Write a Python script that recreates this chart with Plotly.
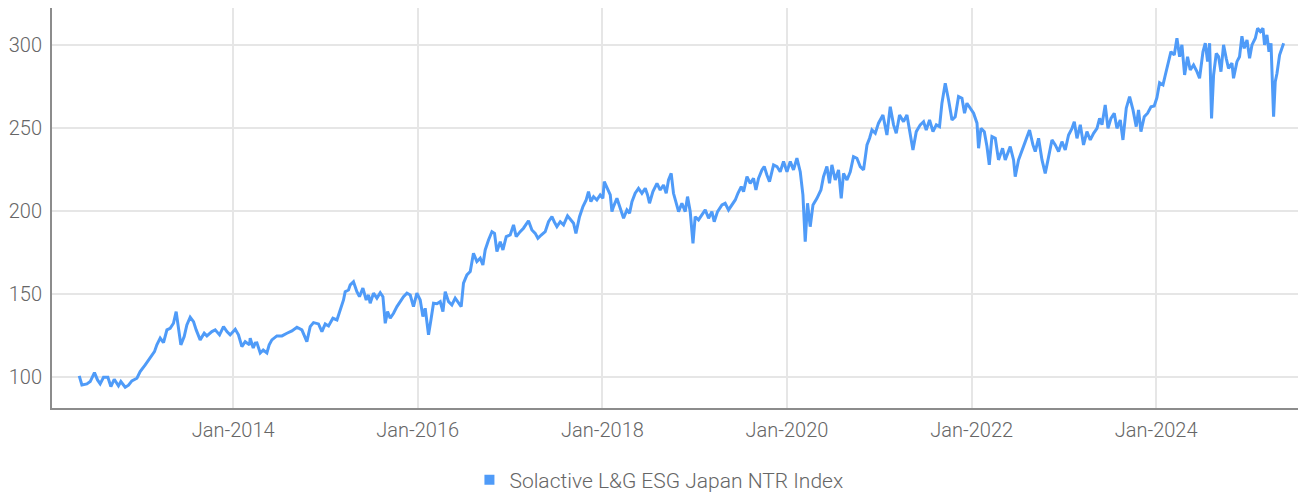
import pandas as pd
import plotly.graph_objects as go

SERIES_NAME = "Solactive L&G ESG Japan NTR Index"

# time in decimal years
t_years = [
    2012.332, 2012.361, 2012.415, 2012.451, 2012.497, 2012.530, 2012.559, 2012.595, 2012.642, 2012.675,
    2012.711, 2012.757, 2012.783, 2012.830, 2012.866, 2012.902, 2012.957, 2012.992, 2013.047, 2013.101,
    2013.147, 2013.173, 2013.209, 2013.245, 2013.282, 2013.317, 2013.353, 2013.382, 2013.407, 2013.433,
    2013.469, 2013.498, 2013.534, 2013.570, 2013.599, 2013.642, 2013.686, 2013.715, 2013.769, 2013.805,
    2013.852, 2013.895, 2013.932, 2013.967, 2014.022, 2014.057, 2014.094, 2014.130, 2014.177, 2014.184,
    2014.217, 2014.238, 2014.257, 2014.293, 2014.325, 2014.365, 2014.390, 2014.419, 2014.473, 2014.528,
    2014.582, 2014.636, 2014.690, 2014.744, 2014.798, 2014.834, 2014.870, 2014.924, 2014.961, 2014.997,
    2015.033, 2015.080, 2015.124, 2015.159, 2015.195, 2015.213, 2015.249, 2015.268, 2015.303, 2015.340,
    2015.368, 2015.405, 2015.441, 2015.466, 2015.484, 2015.520, 2015.557, 2015.593, 2015.622, 2015.647,
    2015.672, 2015.701, 2015.737, 2015.774, 2015.809, 2015.845, 2015.882, 2015.918, 2015.953, 2015.990,
    2016.026, 2016.055, 2016.080, 2016.116, 2016.142, 2016.170, 2016.207, 2016.243, 2016.272, 2016.297,
    2016.333, 2016.369, 2016.405, 2016.441, 2016.470, 2016.495, 2016.532, 2016.568, 2016.603, 2016.640,
    2016.676, 2016.705, 2016.730, 2016.766, 2016.803, 2016.831, 2016.857, 2016.893, 2016.922, 2016.958,
    2017.001, 2017.037, 2017.066, 2017.109, 2017.145, 2017.199, 2017.236, 2017.272, 2017.301, 2017.337,
    2017.380, 2017.416, 2017.453, 2017.478, 2017.507, 2017.543, 2017.579, 2017.622, 2017.659, 2017.687,
    2017.713, 2017.752, 2017.789, 2017.824, 2017.849, 2017.875, 2017.904, 2017.940, 2017.976, 2018.005,
    2018.020, 2018.049, 2018.085, 2018.103, 2018.120, 2018.157, 2018.193, 2018.229, 2018.265, 2018.294,
    2018.320, 2018.355, 2018.391, 2018.428, 2018.464, 2018.489, 2018.510, 2018.547, 2018.591, 2018.626,
    2018.662, 2018.691, 2018.716, 2018.745, 2018.770, 2018.796, 2018.825, 2018.861, 2018.897, 2018.922,
    2018.951, 2018.981, 2019.005, 2019.041, 2019.078, 2019.114, 2019.150, 2019.186, 2019.211, 2019.247,
    2019.295, 2019.330, 2019.366, 2019.403, 2019.439, 2019.468, 2019.504, 2019.529, 2019.566, 2019.601,
    2019.637, 2019.663, 2019.691, 2019.728, 2019.753, 2019.782, 2019.810, 2019.854, 2019.891, 2019.926,
    2019.962, 2019.999, 2020.035, 2020.070, 2020.107, 2020.143, 2020.172, 2020.197, 2020.222, 2020.251,
    2020.281, 2020.324, 2020.367, 2020.395, 2020.432, 2020.460, 2020.486, 2020.522, 2020.558, 2020.587,
    2020.612, 2020.649, 2020.685, 2020.720, 2020.757, 2020.793, 2020.829, 2020.866, 2020.894, 2020.920,
    2020.956, 2020.991, 2021.039, 2021.082, 2021.118, 2021.154, 2021.183, 2021.219, 2021.262, 2021.299,
    2021.327, 2021.364, 2021.400, 2021.443, 2021.479, 2021.508, 2021.544, 2021.581, 2021.617, 2021.652,
    2021.678, 2021.714, 2021.750, 2021.787, 2021.822, 2021.858, 2021.895, 2021.923, 2021.949, 2021.985,
    2022.021, 2022.058, 2022.075, 2022.101, 2022.137, 2022.166, 2022.191, 2022.220, 2022.256, 2022.291,
    2022.335, 2022.364, 2022.389, 2022.418, 2022.454, 2022.472, 2022.508, 2022.545, 2022.581, 2022.627,
    2022.664, 2022.689, 2022.725, 2022.762, 2022.797, 2022.827, 2022.870, 2022.906, 2022.942, 2022.978,
    2023.014, 2023.050, 2023.087, 2023.112, 2023.141, 2023.177, 2023.212, 2023.249, 2023.285, 2023.321,
    2023.358, 2023.386, 2023.412, 2023.447, 2023.477, 2023.509, 2023.545, 2023.574, 2023.610, 2023.639,
    2023.675, 2023.711, 2023.748, 2023.783, 2023.808, 2023.834, 2023.870, 2023.906, 2023.943, 2023.978,
    2024.007, 2024.036, 2024.073, 2024.098, 2024.133, 2024.159, 2024.195, 2024.224, 2024.253, 2024.278,
    2024.307, 2024.339, 2024.368, 2024.404, 2024.441, 2024.469, 2024.506, 2024.531, 2024.556, 2024.578,
    2024.599, 2024.621, 2024.650, 2024.675, 2024.701, 2024.729, 2024.758, 2024.783, 2024.820, 2024.837,
    2024.874, 2024.902, 2024.928, 2024.953, 2024.983, 2025.011, 2025.037, 2025.073, 2025.098, 2025.127,
    2025.156, 2025.173, 2025.199, 2025.221, 2025.243, 2025.271, 2025.289, 2025.308, 2025.336, 2025.362,
    2025.380,
]

index_values = [
    100.6, 95.2, 95.8, 97.2, 102.6, 98.2, 95.8, 99.8, 99.8, 94.2,
    98.6, 94.6, 97.2, 93.8, 95.0, 97.6, 99.2, 103.2, 107.2, 111.2,
    115.2, 119.3, 123.3, 120.6, 128.3, 129.3, 132.3, 139.3, 130.3, 119.3,
    124.3, 131.3, 135.9, 133.3, 128.3, 122.3, 126.3, 124.7, 127.3, 128.3,
    125.3, 130.3, 127.3, 125.3, 128.7, 125.3, 118.2, 121.2, 119.3, 123.3,
    117.4, 120.3, 120.5, 114.4, 116.2, 114.4, 119.3, 122.3, 124.7, 124.7,
    126.3, 127.7, 129.9, 128.3, 121.2, 130.3, 132.7, 131.9, 127.3, 131.9,
    130.7, 135.3, 134.3, 140.3, 146.3, 151.3, 152.3, 155.4, 157.3, 151.3,
    148.3, 153.4, 146.3, 149.3, 144.3, 150.4, 147.4, 150.7, 148.3, 132.3,
    139.3, 135.3, 138.3, 142.3, 145.3, 148.3, 150.4, 149.3, 142.3, 150.4,
    146.3, 136.3, 141.3, 125.3, 134.3, 144.3, 144.0, 145.3, 139.3, 151.3,
    145.3, 143.3, 147.4, 144.3, 142.3, 156.4, 161.4, 163.4, 174.4, 169.4,
    171.4, 167.4, 176.4, 182.4, 187.4, 186.4, 175.4, 181.4, 176.4, 184.4,
    185.4, 191.5, 184.4, 187.4, 189.5, 194.0, 188.4, 186.4, 183.4, 185.4,
    187.4, 193.4, 196.4, 193.4, 190.4, 193.4, 191.5, 196.9, 194.5, 192.5,
    186.4, 196.4, 202.5, 206.5, 211.5, 205.5, 208.5, 206.5, 209.5, 207.5,
    217.5, 213.5, 209.5, 199.5, 202.5, 207.5, 201.5, 195.5, 200.5, 198.5,
    205.5, 210.5, 213.5, 210.5, 213.5, 209.5, 204.5, 211.5, 216.5, 212.5,
    215.5, 210.5, 218.5, 222.5, 210.5, 205.5, 199.5, 204.5, 199.5, 208.5,
    199.5, 180.4, 196.4, 194.5, 197.5, 200.5, 195.5, 199.5, 193.4, 199.5,
    203.5, 204.5, 200.5, 203.5, 206.5, 210.5, 214.5, 211.5, 220.5, 216.5,
    219.5, 212.5, 219.5, 224.6, 226.6, 221.5, 217.5, 227.6, 226.6, 223.5,
    229.6, 223.5, 229.6, 224.6, 231.6, 223.5, 209.5, 181.4, 204.5, 190.4,
    203.5, 207.5, 212.5, 220.5, 226.6, 216.5, 227.6, 218.5, 224.6, 207.5,
    222.5, 218.5, 223.5, 232.6, 231.6, 226.6, 224.6, 239.6, 243.6, 248.6,
    246.6, 252.7, 257.6, 245.6, 262.6, 251.7, 246.6, 257.6, 253.6, 257.6,
    247.6, 236.6, 247.6, 251.7, 253.6, 248.6, 254.6, 247.6, 251.7, 250.6,
    264.7, 276.7, 266.7, 254.6, 256.6, 268.7, 267.7, 258.7, 264.7, 262.0,
    258.7, 252.7, 237.6, 249.6, 247.6, 238.6, 227.6, 244.6, 243.6, 230.6,
    237.6, 230.6, 234.6, 238.6, 230.6, 220.5, 230.6, 235.6, 241.6, 248.6,
    239.6, 235.6, 243.6, 230.6, 222.5, 230.6, 242.6, 239.6, 235.6, 241.6,
    236.6, 245.6, 249.6, 253.6, 243.6, 251.7, 239.6, 247.6, 242.6, 246.6,
    249.6, 255.6, 251.7, 263.7, 249.6, 255.6, 258.7, 249.6, 254.6, 242.6,
    261.7, 268.7, 260.7, 250.6, 260.7, 247.6, 256.6, 258.7, 262.6, 263.0,
    268.0, 277.0, 275.7, 281.7, 288.8, 295.7, 293.7, 303.8, 292.7, 299.8,
    281.7, 292.7, 284.7, 287.7, 283.7, 279.7, 295.7, 300.8, 289.7, 300.8,
    255.6, 281.7, 294.7, 292.7, 283.7, 299.8, 291.7, 285.7, 288.8, 279.7,
    289.7, 292.7, 305.0, 297.7, 302.8, 291.7, 299.8, 303.8, 309.8, 307.8,
    309.8, 299.8, 305.8, 295.7, 300.8, 256.6, 277.7, 282.7, 293.7, 297.7,
    300.8,
]

y_ticks = [100, 150, 200, 250, 300]

base = pd.Timestamp("2014-01-01")
dates = [base + pd.Timedelta(days=(t - 2014.0) * 365.25) for t in t_years]

LINE_COLOR = "#4F9BF8"
FONT = "Roboto, sans-serif"
GRID = "#E6E6E6"
AXIS = "#8C8C8C"
TEXT = "#666666"

fig = go.Figure()
fig.add_trace(go.Scatter(
    x=dates, y=index_values, mode="lines",
    line=dict(color=LINE_COLOR, width=3),
    showlegend=False, name=SERIES_NAME,
))
fig.add_trace(go.Scatter(
    x=[None], y=[None], mode="markers",
    marker=dict(symbol="square", size=10, color=LINE_COLOR),
    name=SERIES_NAME, showlegend=True,
))

# page body adds an 8px offset, so the figure is sized to fit the window
fig.update_layout(
    width=1298, height=485,
    margin=dict(l=44, r=0, t=0, b=85, autoexpand=False),
    paper_bgcolor="white", plot_bgcolor="white",
    font=dict(family=FONT, size=20, color=TEXT, weight=300),
    legend=dict(orientation="h", x=0.484, xanchor="center", y=-0.18, yanchor="middle",
                font=dict(family=FONT, size=21, color=TEXT, weight=300),
                itemwidth=30, tracegroupgap=0),
    xaxis=dict(
        type="date",
        range=["2012-01-15", "2025-08-16"],
        tick0="2014-01-01", dtick="M24", tickformat="%b-%Y",
        showgrid=True, gridcolor=GRID, gridwidth=2,
        showline=True, linecolor=AXIS, linewidth=2,
        ticks="", ticklabelstandoff=3,
        zeroline=False, automargin=False,
    ),
    yaxis=dict(
        range=[81.3, 322],
        tickvals=y_ticks,
        showgrid=True, gridcolor=GRID, gridwidth=2,
        showline=True, linecolor=AXIS, linewidth=2,
        ticks="", ticklabelstandoff=4,
        zeroline=False, automargin=False,
    ),
)

fig.write_html("out.html")
